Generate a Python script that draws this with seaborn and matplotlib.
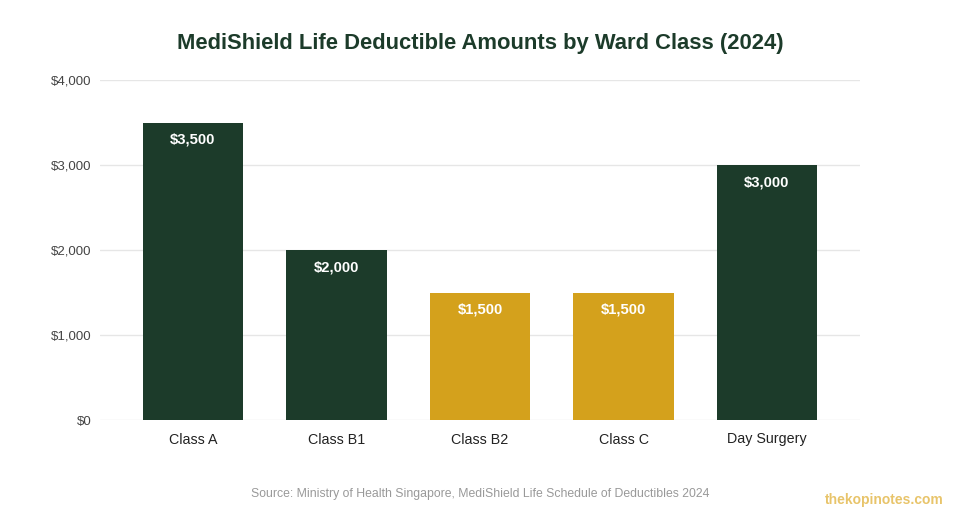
import matplotlib
matplotlib.use("Agg")
import matplotlib.pyplot as plt
import seaborn as sns
import pandas as pd
from matplotlib.ticker import FuncFormatter

# data
ward_classes = ["Class A", "Class B1", "Class B2", "Class C", "Day Surgery"]
deductibles = [3500, 2000, 1500, 1500, 3000]
bar_group = ["high", "high", "low", "low", "high"]
y_ticks = [0, 1000, 2000, 3000, 4000]

GREEN = "#1c3b2a"
GOLD = "#d4a11c"

sns.set_theme(style="white")
plt.rcParams["font.family"] = ["Liberation Sans", "DejaVu Sans"]

df = pd.DataFrame({"ward": ward_classes, "amount": deductibles, "group": bar_group})

fig = plt.figure(figsize=(9.6, 5.2), dpi=100)
ax = fig.add_axes([100 / 960, 1 - 420 / 520, 760 / 960, 340 / 520])

sns.barplot(data=df, x="ward", y="amount", hue="group",
            palette={"high": GREEN, "low": GOLD},
            dodge=False, width=0.7, saturation=1, legend=False, ax=ax,
            linewidth=0, zorder=3)

# value labels inside the bars
for i, v in enumerate(deductibles):
    ax.annotate(f"${v:,.0f}", xy=(i, v), xytext=(0, -12.5), textcoords="offset points",
                ha="center", va="center", color="white", fontsize=10.7, fontweight="bold",
                zorder=4)

ax.set_xlim(-0.648, 4.648)
ax.set_ylim(0, 4000)
ax.set_yticks(y_ticks)
ax.yaxis.set_major_formatter(FuncFormatter(lambda v, _: f"${v:,.0f}"))
ax.grid(axis="y", color="#e6e6e6", linewidth=1, zorder=0)
ax.set_axisbelow(True)
for s in ax.spines.values():
    s.set_visible(False)
ax.tick_params(axis="y", length=0, pad=6, labelsize=9.5, labelcolor="#444444")
ax.tick_params(axis="x", length=0, pad=9, labelsize=10.3, labelcolor="#222222")
ax.set_xlabel("")
ax.set_ylabel("")

fig.text(0.5, 1 - 43 / 520, "MediShield Life Deductible Amounts by Ward Class (2024)",
         ha="center", va="center", fontsize=15.8, fontweight="bold", color="#1c3b2a")
fig.text(480 / 960, 1 - 494 / 520,
         "Source: Ministry of Health Singapore, MediShield Life Schedule of Deductibles 2024",
         ha="center", va="center", fontsize=8.8, color="#999999")
fig.text(944 / 960, 1 - 500 / 520, "thekopinotes.com", ha="right", va="center",
         fontsize=10, fontweight="bold", color="#e8c46a")

fig.savefig("out.png", dpi=100)
